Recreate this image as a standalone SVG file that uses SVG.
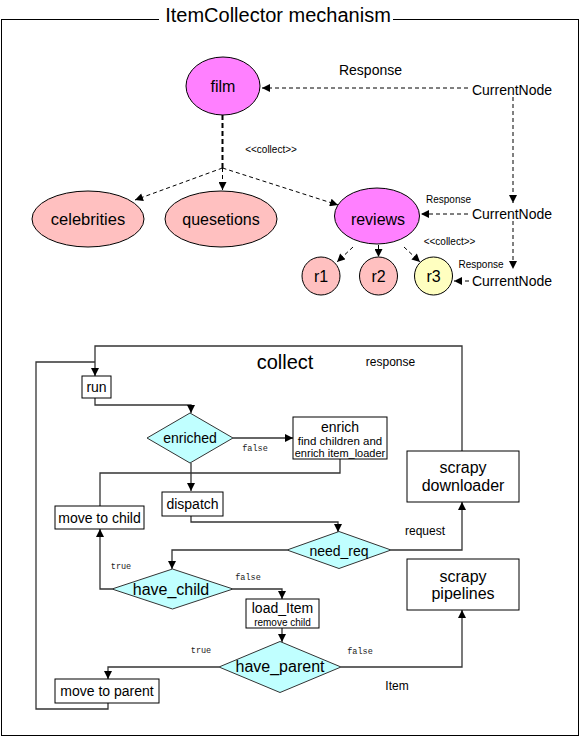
<svg xmlns="http://www.w3.org/2000/svg" width="583" height="737" viewBox="0 0 583 737">
<style>
text{font-family:"Liberation Sans",Arial,sans-serif;fill:#000;text-anchor:middle}
.lbl{font-family:"Liberation Mono","Courier New",monospace;font-size:8.5px;fill:#222}
.box{fill:#fff;stroke:#000;stroke-width:1}
.dia{fill:#c0ffff;stroke:#333;stroke-width:1}
.mag{fill:#ff80ff;stroke:#000;stroke-width:1}
.pink{fill:#ffc0c0;stroke:#000;stroke-width:1}
.yel{fill:#ffffc0;stroke:#000;stroke-width:1}
.dash{fill:none;stroke:#000;stroke-width:1;stroke-dasharray:4 3}
.dashb{fill:none;stroke:#000;stroke-width:2;stroke-dasharray:5 3}
.ln{fill:none;stroke:#333;stroke-width:1.3}
</style>
<defs>
<marker id="ah" viewBox="0 0 10 10" refX="10" refY="5" markerWidth="9" markerHeight="8" markerUnits="userSpaceOnUse" orient="auto"><path d="M0,0 L10,5 L0,10 z" fill="#000"/></marker>
</defs>
<g id="frame">
<rect x="1.5" y="19.5" width="577" height="716" fill="none" stroke="#000" stroke-width="1"/>
<rect x="159" y="10" width="234" height="14" fill="#fff"/>
<text x="278" y="22" style="font-size:20px">ItemCollector mechanism</text>
</g>
<g id="connectors">
<path class="dash" d="M468,88 L262,88" marker-end="url(#ah)"/>
<path class="dash" d="M513,97 L513,203" marker-end="url(#ah)"/>
<path class="dash" d="M468,214 L421,214" marker-end="url(#ah)"/>
<path class="dash" d="M513,221 L513,269" marker-end="url(#ah)"/>
<path class="dash" d="M469,281 L454,281" marker-end="url(#ah)"/>
<path class="dashb" d="M222.5,115 L222.5,168"/>
<path class="dash" d="M222.5,168 L222.5,190" marker-end="url(#ah)"/>
<path class="dash" d="M222.5,168 L135,200" marker-end="url(#ah)"/>
<path class="dash" d="M222.5,168 L338,205" marker-end="url(#ah)"/>
<path class="dash" d="M353,247 L337,262" marker-end="url(#ah)"/>
<path class="dash" d="M378.5,245 L378.5,257" marker-end="url(#ah)"/>
<path class="dash" d="M404,247 L420,262" marker-end="url(#ah)"/>
<path class="ln" d="M462,451 L462,346 L95,346 L95,376" marker-end="url(#ah)"/>
<path class="ln" d="M108,703 L108,709 L36,709 L36,362 L95,362"/>
<path class="ln" d="M95,398 L95,405 L191,405 L191,413" marker-end="url(#ah)"/>
<path class="ln" d="M233,438 L293,438" marker-end="url(#ah)"/>
<path class="ln" d="M340,459 L340,473 L100,473 L100,506"/>
<path class="ln" d="M191,463 L191,491" marker-end="url(#ah)"/>
<path class="ln" d="M191,516 L191,522 L338,522 L338,532" marker-end="url(#ah)"/>
<path class="ln" d="M391,550 L462,550 L462,502" marker-end="url(#ah)"/>
<path class="ln" d="M287,550 L172,550 L172,569" marker-end="url(#ah)"/>
<path class="ln" d="M112,589 L100,589 L100,529" marker-end="url(#ah)"/>
<path class="ln" d="M233,589 L282,589 L282,599" marker-end="url(#ah)"/>
<path class="ln" d="M282,628 L282,642" marker-end="url(#ah)"/>
<path class="ln" d="M219,667 L108,667 L108,679" marker-end="url(#ah)"/>
<path class="ln" d="M341,667 L462,667 L462,610" marker-end="url(#ah)"/>
<text x="370.5" y="75" style="font-size:14px">Response</text>
<text x="448.5" y="203" style="font-size:10px">Response</text>
<text x="481" y="268" style="font-size:10px">Response</text>
<text x="271" y="153" style="font-size:10px">&lt;&lt;collect&gt;&gt;</text>
<text x="449.5" y="245" style="font-size:10px">&lt;&lt;collect&gt;&gt;</text>
<text x="390.5" y="366" style="font-size:12px">response</text>
<text x="425" y="535" style="font-size:12px">request</text>
<text x="397" y="690" style="font-size:12px">Item</text>
<text class="lbl" x="255" y="451">false</text>
<text class="lbl" x="121" y="569">true</text>
<text class="lbl" x="248" y="580">false</text>
<text class="lbl" x="201" y="653">true</text>
<text class="lbl" x="360" y="654">false</text>
</g>
<g id="cn1"><text x="512" y="95" style="font-size:14px">CurrentNode</text></g>
<g id="cn2"><text x="512" y="219" style="font-size:14px">CurrentNode</text></g>
<g id="cn3"><text x="512" y="286" style="font-size:14px">CurrentNode</text></g>
<g id="film"><ellipse class="mag" cx="223" cy="86" rx="37" ry="29"/><text x="223" y="92" style="font-size:16px">film</text></g>
<g id="celebrities"><ellipse class="pink" cx="88" cy="219" rx="56" ry="28"/><text x="88" y="225" style="font-size:16.5px">celebrities</text></g>
<g id="quesetions"><ellipse class="pink" cx="221" cy="219" rx="56" ry="28"/><text x="221" y="225" style="font-size:16px">quesetions</text></g>
<g id="reviews"><ellipse class="mag" cx="377" cy="216" rx="42.5" ry="28"/><text x="378" y="225" style="font-size:16px">reviews</text></g>
<g id="r1"><circle class="pink" cx="321" cy="276" r="19"/><text x="321" y="282" style="font-size:16px">r1</text></g>
<g id="r2"><circle class="pink" cx="378.5" cy="276" r="19"/><text x="378.5" y="282" style="font-size:16px">r2</text></g>
<g id="r3"><circle class="yel" cx="433.5" cy="276" r="19"/><text x="433.5" y="282" style="font-size:16px">r3</text></g>
<g id="collect-title"><text x="285" y="369" style="font-size:20px">collect</text></g>
<g id="run"><rect class="box" x="82" y="376" width="29" height="22"/><text x="96.5" y="392" style="font-size:14px">run</text></g>
<g id="enriched"><path class="dia" d="M147,438 L190,413 L233,438 L190,463 z"/><text x="190" y="443" style="font-size:14px">enriched</text></g>
<g id="enrich"><rect class="box" x="293" y="417" width="94" height="42"/><text x="340" y="431.5" style="font-size:14px">enrich</text><text x="340" y="445" style="font-size:11.5px">find children and</text><text x="340" y="457" style="font-size:11px">enrich item_loader</text></g>
<g id="dispatch"><rect class="box" x="162" y="492" width="61" height="24"/><text x="192.5" y="509" style="font-size:14px">dispatch</text></g>
<g id="move-to-child"><rect class="box" x="55" y="506" width="89" height="23"/><text x="99.5" y="522.5" style="font-size:14px">move to child</text></g>
<g id="downloader"><rect class="box" x="407" y="451" width="112" height="51"/><text x="463" y="473" style="font-size:16px">scrapy</text><text x="463" y="491" style="font-size:16px">downloader</text></g>
<g id="need_req"><path class="dia" d="M287,550 L339,531.5 L391,550 L339,568.5 z"/><text x="339" y="555.5" style="font-size:14px">need_req</text></g>
<g id="have_child"><path class="dia" d="M112,589 L172.5,569 L233,589 L172.5,609 z"/><text x="171" y="595" style="font-size:16px">have_child</text></g>
<g id="load_Item"><rect class="box" x="246" y="599" width="73" height="29"/><text x="282.5" y="613" style="font-size:14px">load_Item</text><text x="282.5" y="625.5" style="font-size:10px">remove child</text></g>
<g id="pipelines"><rect class="box" x="407" y="559" width="112" height="51"/><text x="463" y="582" style="font-size:16px">scrapy</text><text x="463" y="599" style="font-size:16px">pipelines</text></g>
<g id="have_parent"><path class="dia" d="M219,667 L280,641.5 L341,667 L280,692.5 z"/><text x="280" y="672" style="font-size:16px">have_parent</text></g>
<g id="move-to-parent"><rect class="box" x="55" y="679" width="104" height="24"/><text x="107" y="696" style="font-size:14px">move to parent</text></g>
</svg>
